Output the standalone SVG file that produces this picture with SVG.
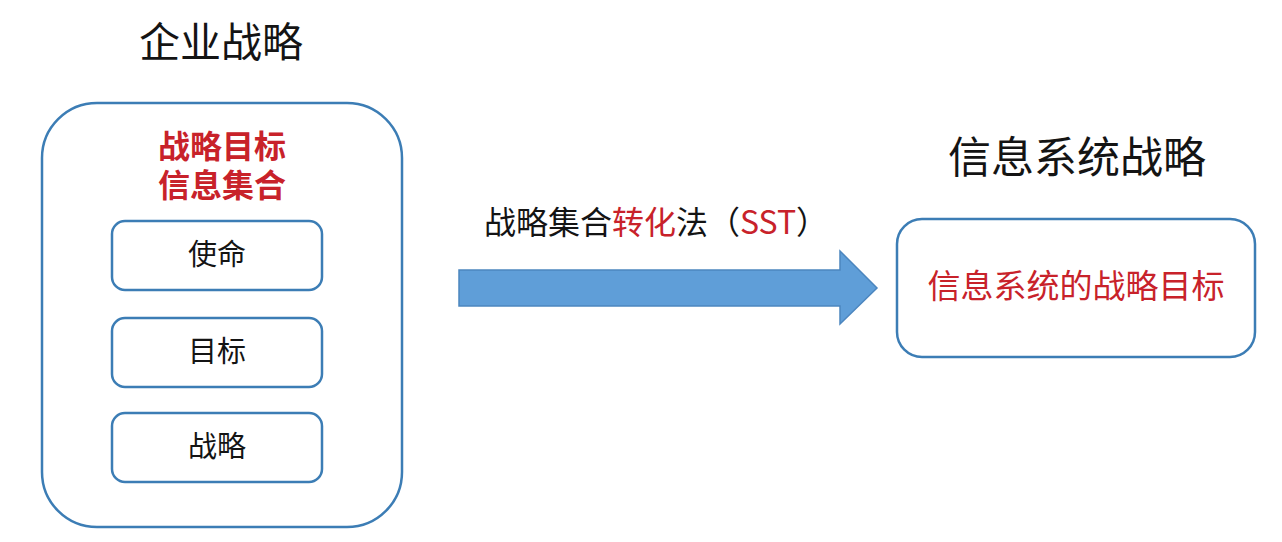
<svg xmlns="http://www.w3.org/2000/svg" width="1282" height="542" viewBox="0 0 1282 542">
<style>
.t{font-family:"Noto Sans CJK SC","Liberation Sans",sans-serif;text-anchor:middle;fill:#141414}
.r{fill:#c8222a}
.box{fill:#fff;stroke:#3c7db5;stroke-width:2.5}
</style>
<rect width="1282" height="542" fill="#fff"/>
<g id="title-left"><text class="t" x="221" y="57" font-size="41">企业战略</text></g>
<g id="enterprise">
<rect class="box" x="42" y="103" width="360" height="424" rx="55"/>
<text class="t r" x="222" y="158" font-size="32" font-weight="bold">战略目标</text>
<text class="t r" x="222" y="197" font-size="32" font-weight="bold">信息集合</text>
</g>
<g id="mission"><rect class="box" x="112" y="221" width="210" height="69" rx="13"/><text class="t" x="217" y="265" font-size="29">使命</text></g>
<g id="goal"><rect class="box" x="112" y="318" width="210" height="69" rx="13"/><text class="t" x="217" y="362" font-size="29">目标</text></g>
<g id="strategy"><rect class="box" x="112" y="413" width="210" height="69" rx="13"/><text class="t" x="217" y="457" font-size="29">战略</text></g>
<g id="connectors">
<path d="M459,270 H840 V251 L877,288 L840,324 V306 H459 Z" fill="#5f9ed8" stroke="#4c86bf" stroke-width="1.5"/>
<text class="t" x="656" y="234" font-size="32">战略集合<tspan class="r">转化</tspan>法（<tspan class="r">SST</tspan>）</text>
</g>
<g id="title-right"><text class="t" x="1077" y="173" font-size="43">信息系统战略</text></g>
<g id="is-strategy">
<rect class="box" x="897" y="219" width="358" height="138" rx="25"/>
<text class="t r" x="1076" y="298" font-size="33">信息系统的战略目标</text>
</g>
</svg>
